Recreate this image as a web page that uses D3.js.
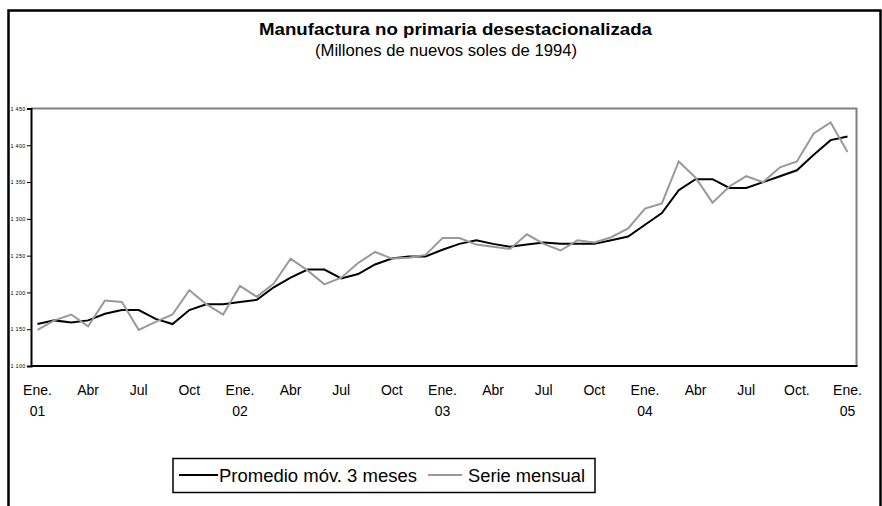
<!DOCTYPE html>
<html>
<head>
<meta charset="utf-8">
<script src="https://cdn.jsdelivr.net/npm/d3@7"></script>
<style>
  body { margin: 0; background: #fff; }
  text { font-family: Arial, "Liberation Sans", sans-serif; }
</style>
</head>
<body>
<div id="chart"></div>
<script>
// Data: Ene. 2001 .. Ene. 2005 (49 months)
var serieMensual = [
  1149, 1162, 1170, 1154, 1189, 1187, 1149, 1160, 1170, 1203, 1184, 1170,
  1209, 1194, 1212, 1246, 1230, 1211, 1220, 1240, 1255, 1246, 1247, 1251,
  1274, 1274, 1265, 1262, 1259, 1279, 1266, 1257, 1271, 1268, 1275, 1287,
  1314, 1321, 1378, 1356, 1322, 1344, 1358, 1350, 1370, 1378, 1416, 1431,
  1391
];
var promedioMovil = [
  1157, 1162, 1159, 1162, 1171, 1176, 1176, 1164, 1157, 1176, 1184, 1184,
  1187, 1190, 1207, 1220, 1231, 1231, 1219, 1225, 1238, 1246, 1249, 1249,
  1258, 1266, 1271, 1266, 1262, 1265, 1268, 1266, 1266, 1266, 1271, 1276,
  1292, 1308, 1339, 1354, 1354, 1342, 1342, 1350, 1358, 1366, 1387, 1407,
  1412
];
var tickMonths = ["Ene.", "Abr", "Jul", "Oct", "Ene.", "Abr", "Jul", "Oct",
  "Ene.", "Abr", "Jul", "Oct", "Ene.", "Abr", "Jul", "Oct.", "Ene."];
var tickYears = ["01", "", "", "", "02", "", "", "", "03", "", "", "", "04", "", "", "", "05"];
var yTicks = [1100, 1150, 1200, 1250, 1300, 1350, 1400, 1450];

var svgWidth = 882;
var svgHeight = 506;

// plot area edges
var plot = { left: 31, right: 856.5, top: 108.5, bottom: 366 };

var svg = d3.select("#chart")
  .append("svg")
  .attr("width", svgWidth)
  .attr("height", svgHeight);

// outer chart frame (bottom runs off the picture)
svg.append("rect")
  .attr("x", 8.5)
  .attr("y", 10.5)
  .attr("width", 872)
  .attr("height", 600)
  .attr("fill", "none")
  .attr("stroke", "#000")
  .attr("stroke-width", 2.5);

// titles
svg.append("text")
  .attr("x", 259)
  .attr("y", 34.5)
  .attr("font-size", 17)
  .attr("font-weight", "bold")
  .attr("textLength", 393)
  .attr("lengthAdjust", "spacingAndGlyphs")
  .text("Manufactura no primaria desestacionalizada");

svg.append("text")
  .attr("x", 315)
  .attr("y", 56)
  .attr("font-size", 16)
  .attr("textLength", 262)
  .attr("lengthAdjust", "spacingAndGlyphs")
  .text("(Millones de nuevos soles de 1994)");

// scales
var idx = d3.range(serieMensual.length);
var x = d3.scalePoint()
  .domain(idx)
  .range([plot.left + 6.5, plot.right - 9]);

var y = d3.scaleLinear()
  .domain([1100, 1450])
  .range([plot.bottom, plot.top]);

// gray top / right border of plot area
svg.append("path")
  .attr("d", `M${plot.left},${plot.top}H${plot.right}V${plot.bottom}`)
  .attr("fill", "none")
  .attr("stroke", "#808080")
  .attr("stroke-width", 2);

// y axis
var fmt = d3.formatLocale({ decimal: ",", thousands: " ", grouping: [3], currency: ["", ""] }).format(",");
var leftAxis = d3.axisLeft(y)
  .tickValues(yTicks)
  .tickSize(4)
  .tickPadding(1.5)
  .tickFormat(fmt);

var yAxis = svg.append("g")
  .attr("transform", `translate(${plot.left}, 0)`)
  .call(leftAxis);
yAxis.select(".domain").attr("stroke", "#000").attr("stroke-width", 2);
yAxis.selectAll(".tick line").attr("stroke", "#000").attr("stroke-width", 1);
yAxis.selectAll(".tick text")
  .attr("font-size", 5.5)
  .attr("letter-spacing", 0.25)
  .attr("font-family", "Arial, 'Liberation Sans', sans-serif")
  .attr("fill", "#000");

// x axis (no tick marks)
svg.append("line")
  .attr("x1", plot.left)
  .attr("x2", plot.right + 1)
  .attr("y1", plot.bottom)
  .attr("y2", plot.bottom)
  .attr("stroke", "#000")
  .attr("stroke-width", 2);

var xLabels = svg.append("g");
tickMonths.forEach(function(m, k) {
  var cx = x(k * 3);
  xLabels.append("text")
    .attr("x", cx)
    .attr("y", 394.5)
    .attr("text-anchor", "middle")
    .attr("font-size", 14)
    .text(m);
  if (tickYears[k]) {
    xLabels.append("text")
      .attr("x", cx)
      .attr("y", 416)
      .attr("text-anchor", "middle")
      .attr("font-size", 14)
      .text(tickYears[k]);
  }
});

// lines
var line = d3.line()
  .x((d, i) => x(i))
  .y(d => y(d));

svg.append("path")
  .datum(promedioMovil)
  .attr("d", line)
  .attr("fill", "none")
  .attr("stroke", "#000")
  .attr("stroke-width", 2);

svg.append("path")
  .datum(serieMensual)
  .attr("d", line)
  .attr("fill", "none")
  .attr("stroke", "#999999")
  .attr("stroke-width", 2);

// legend
var legend = svg.append("g");
legend.append("rect")
  .attr("x", 173)
  .attr("y", 458.5)
  .attr("width", 422)
  .attr("height", 34)
  .attr("fill", "#fff")
  .attr("stroke", "#000")
  .attr("stroke-width", 1.5);

legend.append("line")
  .attr("x1", 179).attr("x2", 218)
  .attr("y1", 475).attr("y2", 475)
  .attr("stroke", "#000")
  .attr("stroke-width", 2);
legend.append("text")
  .attr("x", 219)
  .attr("y", 481.5)
  .attr("font-size", 18)
  .attr("textLength", 198)
  .attr("lengthAdjust", "spacingAndGlyphs")
  .text("Promedio móv. 3 meses");

legend.append("line")
  .attr("x1", 428).attr("x2", 462)
  .attr("y1", 475).attr("y2", 475)
  .attr("stroke", "#999999")
  .attr("stroke-width", 2);
legend.append("text")
  .attr("x", 468)
  .attr("y", 481.5)
  .attr("font-size", 18)
  .attr("textLength", 117)
  .attr("lengthAdjust", "spacingAndGlyphs")
  .text("Serie mensual");
</script>
</body>
</html>
